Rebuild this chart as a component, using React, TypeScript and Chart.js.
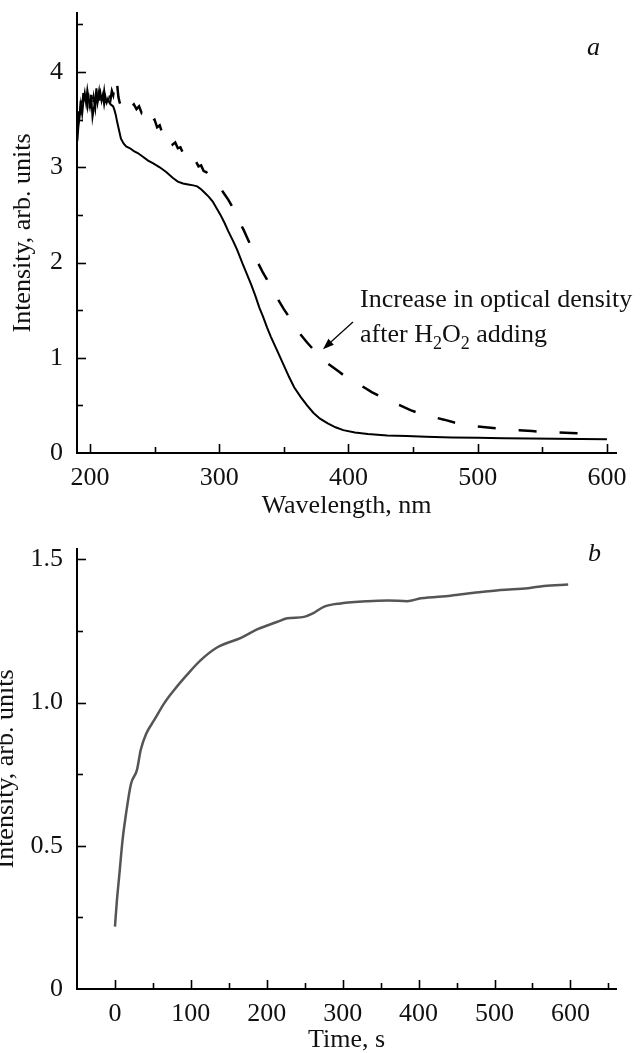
import React, { useEffect, useRef } from "react";
import { Chart, registerables } from "chart.js";

Chart.register(...registerables);

const FONT_FAMILY = '"Liberation Serif", "Times New Roman", Times, serif';
const TEXT_COLOR = "#111";

// ---------- Panel a: absorption spectra ----------
const wavelengthSolid = [
  190, 190.3, 191, 192, 193, 194, 195, 196, 197, 198, 199, 200, 201, 202, 203, 204, 205, 206, 207, 208,
  209, 210, 211, 212, 213, 214, 215, 216, 217, 218, 219, 220, 221, 222, 223, 224, 226, 228, 231, 234,
  237, 241, 245, 249, 254, 259, 264, 268, 272, 276, 280, 283, 286, 289, 292, 295, 298, 301, 304, 307,
  311, 314, 318, 322, 325, 328, 331, 334, 337, 340, 343, 346, 350, 354, 358, 363, 368, 373, 378, 384,
  390, 396, 405, 415, 430, 445, 460, 480, 500, 520, 540, 560, 580, 600,
];
const intensitySolid = [
  3.52, 3.28, 3.42, 3.53, 3.66, 3.56, 3.7, 3.78, 3.68, 3.81, 3.72, 3.64, 3.74, 3.53, 3.62, 3.67, 3.83, 3.7, 3.74, 3.79,
  3.7, 3.76, 3.66, 3.74, 3.68, 3.72, 3.68, 3.66, 3.65, 3.64, 3.6, 3.55, 3.48, 3.42, 3.36, 3.3, 3.25, 3.22, 3.2, 3.17,
  3.15, 3.11, 3.07, 3.04, 3.0, 2.95, 2.89, 2.85, 2.83, 2.82, 2.81, 2.8, 2.77, 2.73, 2.69, 2.64, 2.57, 2.5, 2.42, 2.33,
  2.22, 2.13, 1.99, 1.86, 1.76, 1.65, 1.53, 1.43, 1.32, 1.22, 1.13, 1.04, 0.92, 0.8, 0.69, 0.59, 0.5, 0.42, 0.36, 0.31,
  0.27, 0.24, 0.215, 0.2, 0.185, 0.178, 0.17, 0.163, 0.16, 0.155, 0.152, 0.15, 0.147, 0.145,
];

const wavelengthDashed = [
  190, 191, 192, 193, 194, 195, 196, 197, 198, 199, 200, 201, 202, 203, 204, 205, 206, 207, 208, 209,
  210, 211, 212, 213, 214, 215, 216, 217, 218, 219, 220, 221, 222, 223, 224, 226, 228, 230, 232, 234,
  236, 238, 240, 242, 244, 246, 248, 250, 252, 254, 256, 258, 260, 262, 264, 266, 268, 270, 272, 274,
  276, 278, 280, 282, 284, 286, 288, 290, 292, 295, 298, 301, 304, 307, 310, 313, 316, 319, 322, 325,
  328, 331, 334, 337, 340, 343, 347, 350, 353, 356, 359, 362, 365, 368, 372, 376, 380, 384, 388, 392,
  396, 400, 404, 408, 412, 418, 425, 432, 440, 448, 456, 465, 474, 482, 490, 498, 506, 514, 522, 532,
  542, 552, 562, 572, 580, 586,
];
const intensityDashed = [
  3.4, 3.62, 3.48, 3.7, 3.55, 3.78, 3.6, 3.74, 3.66, 3.82, 3.62, 3.76, 3.58, 3.72, 3.64, 3.84, 3.7, 3.78, 3.64, 3.74,
  3.68, 3.78, 3.66, 3.74, 3.7, 3.78, 3.72, 3.8, 3.76, 3.86, 3.8, 3.88, 3.74, 3.68, 3.64, 3.66, 3.62, 3.67, 3.63, 3.66,
  3.61, 3.64, 3.57, 3.6, 3.53, 3.55, 3.48, 3.5, 3.42, 3.44, 3.36, 3.38, 3.3, 3.31, 3.24, 3.26, 3.2, 3.21, 3.15, 3.16,
  3.1, 3.11, 3.05, 3.06, 3.01, 3.02, 2.96, 2.95, 2.91, 2.86, 2.82, 2.78, 2.72, 2.66, 2.59, 2.51, 2.42, 2.34, 2.25, 2.16,
  2.06, 1.97, 1.89, 1.82, 1.74, 1.67, 1.58, 1.51, 1.45, 1.38, 1.32, 1.26, 1.21, 1.16, 1.1, 1.03, 0.98, 0.94, 0.9, 0.86,
  0.82, 0.78, 0.75, 0.72, 0.69, 0.64, 0.59, 0.54, 0.5, 0.45, 0.41, 0.38, 0.35, 0.32, 0.3, 0.28, 0.27, 0.26, 0.25, 0.24,
  0.23, 0.22, 0.215, 0.21, 0.205, 0.2,
];

const spectrumXLabels = [200, 300, 400, 500, 600];
const spectrumXMinor = [250, 350, 450, 550];
const spectrumYLabels = [0, 1, 2, 3, 4];
const spectrumYMinor = [0.5, 1.5, 2.5, 3.5, 4.5];

const annotationLine1 = "Increase in optical density";
const annotationLine2 = ["after H", "2", "O", "2", " adding"];
const annotationTextAt = { x: 409, y: 1.533 };
const arrowTail = { x: 403.5, y: 1.375 };
const arrowTip = { x: 380.3, y: 1.09 };
const panelLabelA = { text: "a", x: 584.5, y: 4.18 };

// ---------- Panel b: kinetics ----------
const timeS = [
  0, 2.6, 5.8, 10, 14.5, 21, 29, 34, 41, 52, 65, 78, 96, 113, 135, 166, 188, 214, 227, 249,
  260, 275, 297, 333, 360, 385, 403, 442, 473, 508, 544, 565, 597,
];
const intensityKinetic = [
  0.218, 0.31, 0.4, 0.52, 0.61, 0.715, 0.765, 0.835, 0.89, 0.94, 0.998, 1.044, 1.1, 1.148, 1.193, 1.226, 1.256, 1.282, 1.294, 1.299,
  1.31, 1.334, 1.346, 1.354, 1.356, 1.354, 1.364, 1.373, 1.383, 1.393, 1.399, 1.407, 1.412,
];

const kineticXLabels = [0, 100, 200, 300, 400, 500, 600];
const kineticXMinor = [50, 150, 250, 350, 450, 550, 650];
const kineticYLabels = [0, 0.5, 1.0, 1.5];
const kineticYMinor = [0.25, 0.75, 1.25];
const panelLabelB = { text: "b", x: 623, y: 1.494 };

function font(size = 26, style = "normal") {
  return { family: FONT_FAMILY, size, style: style as any, weight: "normal" as any };
}

function inwardTicksPlugin(xMajor: number[], xMinor: number[], yMajor: number[], yMinor: number[]) {
  return {
    id: "inwardTicks",
    afterDraw(chart: any) {
      const ctx = chart.ctx as CanvasRenderingContext2D;
      const xs = chart.scales.x;
      const ys = chart.scales.y;
      const { left, bottom } = chart.chartArea;
      ctx.save();
      ctx.strokeStyle = "#000";
      ctx.lineWidth = 1.6;
      const drawX = (v: number, len: number) => {
        const p = Math.round(xs.getPixelForValue(v)) + 0.5;
        ctx.beginPath();
        ctx.moveTo(p, bottom);
        ctx.lineTo(p, bottom - len);
        ctx.stroke();
      };
      const drawY = (v: number, len: number) => {
        const p = Math.round(ys.getPixelForValue(v)) + 0.5;
        ctx.beginPath();
        ctx.moveTo(left, p);
        ctx.lineTo(left + len, p);
        ctx.stroke();
      };
      xMajor.forEach((v) => drawX(v, 9));
      xMinor.forEach((v) => drawX(v, 6));
      yMajor.filter((v) => v !== 0).forEach((v) => drawY(v, 9));
      yMinor.forEach((v) => drawY(v, 6));
      ctx.restore();
    },
  };
}

function panelLabelPlugin(label: { text: string; x: number; y: number }) {
  return {
    id: "panelLabel",
    afterDraw(chart: any) {
      const ctx = chart.ctx as CanvasRenderingContext2D;
      const px = chart.scales.x.getPixelForValue(label.x);
      const py = chart.scales.y.getPixelForValue(label.y);
      ctx.save();
      ctx.fillStyle = TEXT_COLOR;
      ctx.font = `italic 26px ${FONT_FAMILY}`;
      ctx.textBaseline = "alphabetic";
      ctx.textAlign = "left";
      ctx.fillText(label.text, px, py);
      ctx.restore();
    },
  };
}

const annotationPlugin = {
  id: "annotation",
  afterDraw(chart: any) {
    const ctx = chart.ctx as CanvasRenderingContext2D;
    const xs = chart.scales.x;
    const ys = chart.scales.y;
    const tx = xs.getPixelForValue(annotationTextAt.x);
    const ty = ys.getPixelForValue(annotationTextAt.y);
    ctx.save();
    ctx.fillStyle = TEXT_COLOR;
    ctx.textBaseline = "alphabetic";
    ctx.textAlign = "left";
    ctx.font = `26px ${FONT_FAMILY}`;
    ctx.fillText(annotationLine1, tx, ty);
    let cx = tx;
    const y2 = ty + 35;
    annotationLine2.forEach((part, i) => {
      const sub = i === 1 || i === 3;
      ctx.font = sub ? `18px ${FONT_FAMILY}` : `26px ${FONT_FAMILY}`;
      ctx.fillText(part, cx, sub ? y2 + 7 : y2);
      cx += ctx.measureText(part).width;
    });
    const x0 = xs.getPixelForValue(arrowTail.x);
    const y0 = ys.getPixelForValue(arrowTail.y);
    const x1 = xs.getPixelForValue(arrowTip.x);
    const y1 = ys.getPixelForValue(arrowTip.y);
    const ang = Math.atan2(y1 - y0, x1 - x0);
    const hl = 11;
    const hw = 4;
    const bx = x1 - hl * Math.cos(ang);
    const by = y1 - hl * Math.sin(ang);
    ctx.strokeStyle = "#000";
    ctx.lineWidth = 1.2;
    ctx.beginPath();
    ctx.moveTo(x0, y0);
    ctx.lineTo(bx, by);
    ctx.stroke();
    ctx.fillStyle = "#000";
    ctx.beginPath();
    ctx.moveTo(x1, y1);
    ctx.lineTo(bx + hw * Math.sin(ang), by - hw * Math.cos(ang));
    ctx.lineTo(bx - hw * Math.sin(ang), by + hw * Math.cos(ang));
    ctx.closePath();
    ctx.fill();
    ctx.restore();
  },
};

function axisBase() {
  return {
    type: "linear" as const,
    grid: { display: false, drawTicks: false },
    border: { display: true, color: "#000", width: 2 },
  };
}

function fixWidth(w: number) {
  return (s: any) => {
    s.width = w;
    s.paddingTop = 0;
    s.paddingBottom = 0;
    s.paddingLeft = 0;
    s.paddingRight = 0;
  };
}
function fixHeight(h: number) {
  return (s: any) => {
    s.height = h;
    s.paddingTop = 0;
    s.paddingBottom = 0;
    s.paddingLeft = 0;
    s.paddingRight = 0;
  };
}

function SpectrumChart() {
  const ref = useRef<HTMLCanvasElement>(null);
  useEffect(() => {
    const chart = new Chart(ref.current!, {
      type: "line",
      data: {
        datasets: [
          {
            data: wavelengthSolid.map((x, i) => ({ x, y: intensitySolid[i] })),
            borderColor: "#000",
            borderWidth: 2,
            pointRadius: 0,
            tension: 0,
            fill: false,
          },
          {
            data: wavelengthDashed.map((x, i) => ({ x, y: intensityDashed[i] })),
            borderColor: "#000",
            borderWidth: 2.5,
            borderDash: [18, 23],
            pointRadius: 0,
            tension: 0,
            fill: false,
          },
        ],
      },
      options: {
        responsive: false,
        animation: false,
        events: [],
        layout: { padding: { top: 13, right: 24, left: 0, bottom: 0 } },
        plugins: { legend: { display: false }, tooltip: { enabled: false } },
        scales: {
          x: {
            ...axisBase(),
            min: 190,
            max: 607,
            afterBuildTicks: (s: any) => {
              s.ticks = spectrumXLabels.map((value) => ({ value }));
            },
            afterFit: fixHeight(77),
            ticks: {
              font: font(),
              color: TEXT_COLOR,
              padding: 10,
              maxRotation: 0,
              autoSkip: false,
              callback: (v: any) => String(v),
            },
            title: {
              display: true,
              text: "Wavelength, nm",
              font: font(),
              color: TEXT_COLOR,
              padding: { top: 0, bottom: 8 },
            },
          },
          y: {
            ...axisBase(),
            min: 0,
            max: 4.62,
            afterBuildTicks: (s: any) => {
              s.ticks = spectrumYLabels.map((value) => ({ value }));
            },
            afterFit: fixWidth(77),
            ticks: {
              font: font(),
              color: TEXT_COLOR,
              padding: 14,
              autoSkip: false,
              callback: (v: any) => String(v),
            },
            title: {
              display: true,
              text: "Intensity, arb. units",
              font: font(),
              color: TEXT_COLOR,
              padding: { top: 8, bottom: 0 },
            },
          },
        },
      } as any,
      plugins: [
        inwardTicksPlugin(spectrumXLabels, spectrumXMinor, spectrumYLabels, spectrumYMinor),
        annotationPlugin,
        panelLabelPlugin(panelLabelA),
      ],
    });
    return () => chart.destroy();
  }, []);
  return (
    <canvas
      ref={ref}
      width={640}
      height={530}
      style={{ position: "absolute", left: 0, top: 0, width: 640, height: 530 }}
    />
  );
}

function KineticsChart() {
  const ref = useRef<HTMLCanvasElement>(null);
  useEffect(() => {
    const chart = new Chart(ref.current!, {
      type: "line",
      data: {
        datasets: [
          {
            data: timeS.map((x, i) => ({ x, y: intensityKinetic[i] })),
            borderColor: "#555",
            borderWidth: 2.5,
            pointRadius: 0,
            tension: 0.3,
            cubicInterpolationMode: "monotone",
            fill: false,
          },
        ],
      },
      options: {
        responsive: false,
        animation: false,
        events: [],
        layout: { padding: { top: 19, right: 24, left: 0, bottom: 0 } },
        plugins: { legend: { display: false }, tooltip: { enabled: false } },
        scales: {
          x: {
            ...axisBase(),
            min: -50,
            max: 660,
            afterBuildTicks: (s: any) => {
              s.ticks = kineticXLabels.map((value) => ({ value }));
            },
            afterFit: fixHeight(64),
            ticks: {
              font: font(),
              color: TEXT_COLOR,
              padding: 10,
              maxRotation: 0,
              autoSkip: false,
              callback: (v: any) => String(v),
            },
            title: {
              display: true,
              text: "Time, s",
              font: font(),
              color: TEXT_COLOR,
              padding: { top: 0, bottom: -3 },
            },
          },
          y: {
            ...axisBase(),
            min: 0,
            max: 1.536,
            afterBuildTicks: (s: any) => {
              s.ticks = kineticYLabels.map((value) => ({ value }));
            },
            afterFit: fixWidth(77),
            ticks: {
              font: font(),
              color: TEXT_COLOR,
              padding: 14,
              autoSkip: false,
              callback: (v: any) => (Number(v) === 0 ? "0" : Number(v).toFixed(1)),
            },
            title: {
              display: true,
              text: "Intensity, arb. units",
              font: font(),
              color: TEXT_COLOR,
              padding: { top: -9, bottom: 0 },
            },
          },
        },
      } as any,
      plugins: [
        inwardTicksPlugin(kineticXLabels, kineticXMinor, kineticYLabels, kineticYMinor),
        panelLabelPlugin(panelLabelB),
      ],
    });
    return () => chart.destroy();
  }, []);
  return (
    <canvas
      ref={ref}
      width={640}
      height={523}
      style={{ position: "absolute", left: 0, top: 530, width: 640, height: 523 }}
    />
  );
}

export default function App() {
  return (
    <div
      style={{
        position: "absolute",
        left: 0,
        top: 0,
        width: 640,
        height: 1053,
        background: "#fff",
        overflow: "hidden",
      }}
    >
      <SpectrumChart />
      <KineticsChart />
    </div>
  );
}
